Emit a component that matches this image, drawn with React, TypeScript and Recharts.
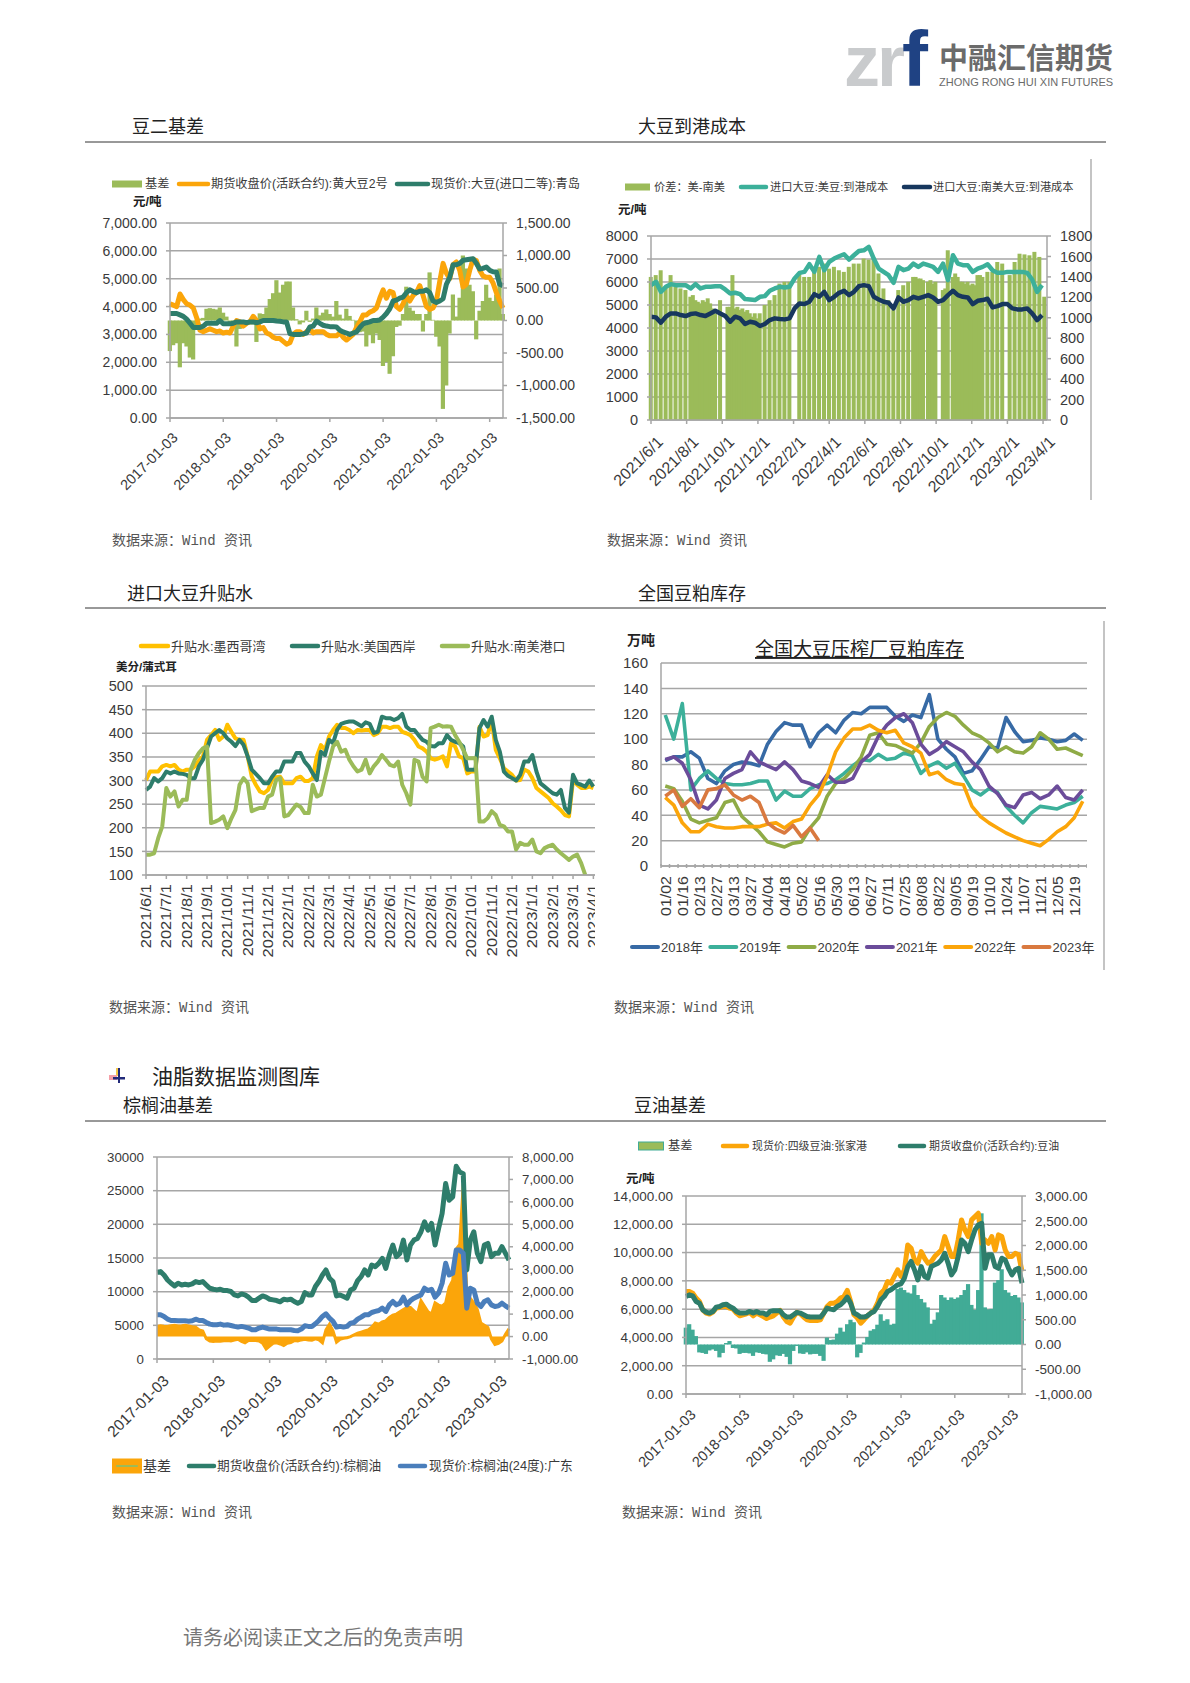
import { ComposedChart, Bar, Line, Area, XAxis, YAxis, CartesianGrid } from 'recharts';
import type { ReactNode } from 'react';

const SANS = '"Liberation Sans","Noto Sans CJK SC",sans-serif';
const SERIF = '"Liberation Serif","Noto Sans CJK SC",serif';
const MONO = '"Liberation Mono","Noto Sans CJK SC",monospace';
const GRID = '#a6a6a6';
const TICK_TEXT = '#3a3a3a';
const ORANGE = '#fba50a';
const DARK_TEAL = '#2e7d6b';
const OLIVE = '#9bbb59';

const YEAR_LABELS = ['2017-01-03', '2018-01-03', '2019-01-03', '2020-01-03', '2021-01-03', '2022-01-03', '2023-01-03'];
const YEAR_TICKS = [0, 16, 32, 48, 64, 80, 96];

// 豆二基差
const SOY2_LEFT = [0, 1000, 2000, 3000, 4000, 5000, 6000, 7000];
const SOY2_RIGHT = [-1500, -1000, -500, 0, 500, 1000, 1500];
const SOY2_BASIS = [-470, -380, -350, -720, -350, -400, -570, -600, -120, 30, 40, 180, 190, 180, 170, 200, 120, 60, -40, -50, -400, -130, -40, -30, -40, -60, -330, 110, 100, 200, 330, 420, 620, 430, 550, 600, 600, 200, 20, -60, -30, 150, -20, 30, 200, 80, 120, 170, 100, 60, 300, 90, 30, 180, 70, 10, -100, -180, -170, -400, -220, -350, -200, -300, -700, -640, -820, -550, -100, -80, 100, 520, 200, 150, 100, 100, -170, 100, 740, 10, -250, -400, -1360, -1000, -200, 400, 60, 350, 1000, 800, 550, 450, -290, 150, 300, 550, 350, 300, 400, 800, 100];
const SOY2_FUTURES = [4100, 4050, 4000, 4450, 4250, 4100, 4050, 3950, 3600, 3150, 3100, 3150, 3200, 3150, 3100, 3120, 3050, 3080, 3050, 3300, 3500, 3450, 3300, 3400, 3450, 3650, 3500, 3200, 3250, 3050, 3000, 2900, 2850, 2850, 2750, 2650, 2700, 3000, 3100, 3100, 3000, 3100, 3200, 3050, 3100, 3100, 3100, 3000, 2950, 2950, 2950, 3050, 2900, 2800, 2900, 3000, 3250, 3450, 3700, 3700, 3800, 3850, 3950, 4300, 4600, 4300, 4550, 4500, 4000, 3900, 4100, 4400, 4200, 4400, 4500, 4750, 4400, 4000, 3900, 3950, 4200, 4900, 5550, 5200, 5000, 5500, 5600, 5300, 4700, 4800, 5300, 5700, 5650, 5300, 5100, 5050, 5050, 4850, 4500, 4200, 3950];
const SOY2_SPOT = [3750, 3750, 3750, 3700, 3650, 3550, 3400, 3250, 3250, 3250, 3300, 3400, 3400, 3400, 3400, 3500, 3380, 3380, 3380, 3400, 3450, 3450, 3450, 3420, 3450, 3450, 3420, 3450, 3500, 3500, 3500, 3500, 3480, 3470, 3450, 3450, 3030, 3000, 3000, 3000, 3020, 3050, 3270, 3300, 3480, 3400, 3330, 3300, 3280, 3280, 3270, 3150, 3090, 3050, 3000, 3050, 3090, 3250, 3380, 3420, 3450, 3500, 3500, 3520, 3620, 3750, 3920, 4200, 4230, 4300, 4340, 4500, 4600, 4540, 4500, 4550, 4550, 4600, 4500, 4200, 4150, 4200, 4280, 4800, 5050, 5500, 5500, 5550, 5660, 5680, 5700, 5720, 5550, 5350, 5370, 5420, 5300, 5250, 5240, 4800, 4750];

// 大豆到港成本
const COST_LEFT = [0, 1000, 2000, 3000, 4000, 5000, 6000, 7000, 8000];
const COST_RIGHT = [0, 200, 400, 600, 800, 1000, 1200, 1400, 1600, 1800];
const COST_LABELS = ['2021/6/1', '2021/8/1', '2021/10/1', '2021/12/1', '2022/2/1', '2022/4/1', '2022/6/1', '2022/8/1', '2022/10/1', '2022/12/1', '2023/2/1', '2023/4/1'];
const COST_TICKS = [0, 14.4, 28.8, 43.2, 57.6, 72, 86.4, 100.8, 115.2, 129.6, 144, 158.4];
const COST_SPREAD = [6220, null, 6300, null, 6510, null, 5790, null, 6300, null, 5790, null, 5720, null, 5650, null, 5360, 5430, 5210, 5140, 5070, 5210, 5140, 5290, 5070, 4850, 4640, null, 5210, null, null, 4920, 4920, 6300, 4850, 4920, 4780, 4850, 4710, 4780, 4640, 4490, 4640, 4420, 4640, null, 5000, null, 5210, null, 5430, null, 5930, null, 6010, null, 6010, null, null, null, 6370, null, 6220, null, 6220, null, 6510, null, 6660, null, 6800, null, 6580, null, 6660, null, 6510, null, 6440, null, 6660, null, 6800, null, 6800, null, 7020, null, 6970, null, 7020, null, 6370, null, 5720, null, 5210, null, 4780, null, 5650, null, 5860, null, 6010, null, 6220, 6220, 6150, 6150, 6080, null, 6010, 6080, 5930, 6010, null, null, 5650, 5720, 7380, null, 6220, 6370, 6220, 6010, 6010, 5930, 6010, 5860, 5930, 5860, 6300, 6300, 6220, null, 6440, null, 6440, null, 6870, null, 6800, null, null, 6300, null, 6870, null, 7230, null, 7200, null, 7160, null, 7310, null, 7090, null, 5360, null];
const COST_US = [5863, 6007, 5574, 5790, 5906, 5863, 5863, 5863, 5718, 5906, 5718, 5790, 5790, 5819, 5819, 5675, 5502, 5531, 5473, 5256, 5242, 5213, 5357, 5386, 5617, 5718, 5790, 5762, 5790, 6151, 6397, 6440, 6772, 6440, 7090, 6512, 6873, 7018, 7119, 7206, 6975, 7162, 7350, 7379, 7523, 7018, 6585, 6440, 6296, 5964, 6657, 6512, 6585, 6801, 6657, 6801, 6729, 6657, 6440, 6801, 6079, 7162, 6801, 6729, 6729, 6440, 6585, 6657, 6772, 6512, 6397, 6397, 6440, 6440, 6440, 6440, 6397, 6108, 5574, 5863];
const COST_SOUTH = [4491, 4462, 4231, 4491, 4635, 4635, 4563, 4520, 4606, 4635, 4563, 4520, 4635, 4751, 4635, 4520, 4274, 4491, 4419, 4173, 4274, 4231, 4087, 4173, 4346, 4419, 4390, 4375, 4419, 4852, 5068, 5040, 5141, 5473, 5357, 5574, 5213, 5357, 5531, 5617, 5430, 5574, 5819, 5863, 5819, 5357, 5242, 5141, 5097, 4852, 5328, 5141, 5213, 5357, 5285, 5357, 5430, 5328, 5141, 5213, 5430, 5617, 5430, 5357, 5328, 5040, 5184, 5213, 5271, 4895, 4953, 5040, 5040, 4852, 4809, 4809, 4852, 4635, 4346, 4563];

// 进口大豆升贴水
const PREMIUM_LEFT = [100, 150, 200, 250, 300, 350, 400, 450, 500];
const PREMIUM_LABELS = ['2021/6/1', '2021/7/1', '2021/8/1', '2021/9/1', '2021/10/1', '2021/11/1', '2021/12/1', '2022/1/1', '2022/2/1', '2022/3/1', '2022/4/1', '2022/5/1', '2022/6/1', '2022/7/1', '2022/8/1', '2022/9/1', '2022/10/1', '2022/11/1', '2022/12/1', '2023/1/1', '2023/2/1', '2023/3/1', '2023/4/1'];
const PREMIUM_TICKS = [0, 5, 10, 15, 20, 25, 30, 35, 40, 45, 50, 55, 60, 65, 70, 75, 80, 85, 90, 95, 100, 105, 110];
const PREMIUM_GULF = [301, 319, 319, 319, 330, 333, 330, 333, 323, 319, 323, 323, 330, 342, 351, 386, 396, 407, 386, 393, 418, 403, 389, 386, 386, 351, 308, 291, 277, 273, 280, 301, 307, 308, 294, 294, 294, 305, 308, 299, 299, 305, 351, 375, 365, 393, 407, 418, 411, 411, 407, 400, 407, 406, 407, 407, 396, 400, 414, 414, 411, 414, 414, 403, 400, 396, 386, 372, 368, 361, 347, 344, 347, 351, 330, 379, 372, 351, 347, 315, 319, 319, 414, 393, 396, 428, 365, 347, 326, 319, 312, 300, 301, 323, 319, 305, 284, 277, 270, 263, 252, 245, 237, 227, 224, 301, 291, 284, 284, 287, 284];
const PREMIUM_WEST = [280, 287, 305, 298, 305, 319, 315, 319, 315, 314, 312, 305, 305, 330, 344, 368, 393, 400, 407, 400, 389, 382, 373, 386, 375, 351, 323, 314, 305, 294, 294, 308, 319, 319, 340, 340, 340, 358, 358, 340, 330, 315, 301, 361, 354, 386, 379, 407, 420, 423, 425, 425, 420, 415, 423, 420, 401, 403, 435, 432, 432, 428, 432, 441, 414, 407, 407, 396, 386, 382, 373, 372, 379, 379, 396, 386, 382, 379, 372, 323, 323, 323, 411, 428, 414, 435, 386, 361, 319, 310, 305, 300, 312, 340, 340, 354, 319, 294, 287, 280, 273, 270, 280, 242, 232, 312, 294, 291, 287, 300, 287];
const PREMIUM_SOUTH = [143, 143, 146, 178, 203, 284, 266, 277, 245, 259, 259, 323, 344, 358, 368, 372, 210, 213, 217, 224, 199, 220, 238, 291, 305, 294, 235, 239, 242, 242, 266, 270, 301, 305, 224, 227, 238, 249, 244, 231, 231, 291, 266, 270, 305, 340, 372, 382, 361, 365, 344, 330, 319, 323, 344, 315, 330, 340, 354, 344, 333, 330, 340, 291, 273, 249, 344, 340, 308, 298, 411, 414, 418, 414, 415, 414, 396, 382, 365, 347, 347, 347, 213, 213, 220, 235, 227, 206, 203, 192, 192, 154, 168, 164, 164, 175, 150, 146, 157, 161, 164, 154, 146, 139, 132, 139, 143, 125, 100];

// 全国豆粕库存
const WEEKS = ['01/02', '01/09', '01/16', '01/23', '02/13', '02/20', '02/27', '03/06', '03/13', '03/20', '03/27', '03/30', '04/04', '04/11', '04/18', '04/25', '05/02', '05/09', '05/16', '05/23', '05/30', '06/06', '06/13', '06/20', '06/27', '07/04', '07/11', '07/18', '07/25', '08/01', '08/08', '08/15', '08/22', '08/29', '09/05', '09/12', '09/19', '09/26', '10/10', '10/17', '10/24', '10/31', '11/07', '11/14', '11/21', '11/28', '12/05', '12/12', '12/19', '12/26'];
const STOCK_LEFT = [0, 20, 40, 60, 80, 100, 120, 140, 160];
const STOCK_2018 = [83, 86, 86, 90, 85, 69, 65, 75, 80, 82, 81, 79, 96, 106, 113, 111, 111, 94, 105, 111, 105, 115, 121, 120, 125, 125, 125, 118, 114, 119, 117, 135, 100, 92, 86, 73, 75, 84, 94, 93, 117, 106, 98, 99, 101, 100, 98, 99, 104, 99];
const STOCK_2019 = [119, 100, 128, 60, 69, 75, 69, 65, 64, 64, 65, 67, 67, 52, 59, 55, 55, 61, 64, 65, 68, 73, 79, 84, 83, 88, 84, 85, 89, 87, 73, 79, 82, 77, 81, 71, 60, 56, 61, 58, 47, 40, 34, 42, 47, 46, 45, 48, 50, 55];
const STOCK_2020 = [63, 61, 51, 37, 34, 36, 38, 50, 52, 39, 33, 27, 19, 17, 15, 18, 19, 30, 38, 55, 65, 69, 76, 86, 103, 105, 96, 95, 92, 89, 97, 110, 117, 121, 118, 111, 105, 102, 97, 90, 94, 90, 89, 94, 105, 100, 92, 93, 90, 87];
const STOCK_2021 = [84, 86, 81, 68, 48, 45, 52, 69, 73, 76, 90, 82, 79, 76, 82, 76, 67, 65, 62, 72, 66, 66, 69, 82, 88, 102, 111, 117, 120, 113, 96, 88, 92, 98, 94, 90, 82, 76, 63, 57, 48, 46, 56, 58, 53, 56, 63, 54, 52, 60];
const STOCK_2022 = [54, 48, 34, 27, 27, 33, 31, 30, 30, 31, 31, 31, 33, 34, 30, 35, 37, 48, 56, 71, 90, 101, 108, 108, 111, 107, 105, 107, 97, 94, 89, 72, 74, 68, 65, 64, 47, 39, 34, 30, 26, 23, 20, 18, 16, 21, 27, 31, 38, 51];
const STOCK_2023 = [55, 60, 47, 53, 46, 60, 61, 64, 56, 52, 55, 50, 34, 29, 26, 32, 23, 30, 20];
const STOCK_YEARS = [
  { key: 'y2018', name: '2018年', color: '#376aa5', values: STOCK_2018 },
  { key: 'y2019', name: '2019年', color: '#3cb09a', values: STOCK_2019 },
  { key: 'y2020', name: '2020年', color: '#8fab46', values: STOCK_2020 },
  { key: 'y2021', name: '2021年', color: '#6b4c9a', values: STOCK_2021 },
  { key: 'y2022', name: '2022年', color: ORANGE, values: STOCK_2022 },
  { key: 'y2023', name: '2023年', color: '#d9793f', values: STOCK_2023 },
];

// 棕榈油基差
const PALM_LEFT = [0, 5000, 10000, 15000, 20000, 25000, 30000];
const PALM_RIGHT = [-1000, 0, 1000, 2000, 3000, 4000, 5000, 6000, 7000, 8000];
const PALM_BASIS = [450, 480, 460, 450, 480, 500, 470, 480, 500, 470, 440, 420, 300, 250, -100, -200, -220, -200, -210, -190, -180, -200, -160, -120, -220, -280, -180, -160, -180, -200, -300, -550, -420, -300, -280, -330, -400, -300, -270, -180, -200, -150, -120, -150, -160, -100, -150, -280, 300, 550, 250, -250, -120, -80, -50, 0, 80, 150, 200, 250, 300, 420, 600, 550, 650, 700, 850, 950, 1000, 1100, 1200, 1300, 1300, 1150, 1000, 1600, 1350, 1100, 1000, 1500, 1400, 1350, 1500, 2200, 2500, 3900, 4100, 6800, 1800, 1700, 1500, 1200, 600, 500, 400, -100, -350, -300, -200, 100, 350];
const PALM_FUTURES = [12880, 12980, 12480, 11740, 11250, 10860, 11250, 11000, 11100, 11000, 11150, 11500, 11350, 11500, 11000, 10510, 10360, 10260, 10360, 10160, 10160, 10020, 9520, 9370, 9670, 9520, 9180, 8680, 8680, 9030, 9370, 9180, 8880, 8780, 8680, 8490, 8880, 8780, 8880, 8540, 8290, 8540, 9870, 9520, 9520, 10760, 11500, 12480, 13220, 11990, 11500, 9370, 9520, 9280, 9030, 10260, 10510, 11640, 12240, 13220, 12480, 13960, 13720, 14210, 14950, 13470, 15440, 16920, 15200, 15690, 17660, 14700, 16920, 17660, 17910, 18900, 20380, 19140, 20130, 16920, 19390, 21610, 26050, 23580, 24080, 28620, 27780, 27530, 13220, 17660, 18900, 15690, 14460, 16920, 17170, 15200, 15690, 15690, 16680, 15690, 14700];
const PALM_SPOT = [6560, 6560, 6320, 5920, 5720, 5720, 5670, 5670, 5670, 5620, 5670, 5920, 5720, 5720, 5430, 5180, 5080, 5080, 5180, 5030, 5080, 4980, 4840, 4740, 4840, 4740, 4590, 4340, 4340, 4590, 4740, 4590, 4440, 4440, 4440, 4340, 4340, 4340, 4340, 4240, 4190, 4440, 4930, 4840, 4840, 5230, 5720, 6320, 6710, 6070, 5580, 4740, 4840, 4740, 4840, 5330, 5430, 5920, 6220, 6560, 6560, 6910, 7060, 7200, 7550, 7060, 8040, 8540, 8040, 8290, 9180, 8040, 8680, 9030, 9280, 9520, 10510, 10160, 10360, 9180, 9770, 11250, 14210, 12480, 12730, 16180, 16180, 15690, 7550, 10510, 10260, 8290, 7800, 8540, 8780, 8040, 7800, 7890, 8290, 7890, 7550];

// 豆油基差
const SOYOIL_LEFT = [0, 2000, 4000, 6000, 8000, 10000, 12000, 14000];
const SOYOIL_RIGHT = [-1000, -500, 0, 500, 1000, 1500, 2000, 2500, 3000];
const SOYOIL_BASIS = [340, 410, 300, 170, -160, -170, -190, -120, -100, -130, -260, -170, 30, 70, -70, -80, -190, -170, -170, -180, -230, -160, -170, -190, -200, -350, -300, -220, -230, -190, -250, -400, -130, -30, -180, -190, -160, -200, -190, -190, -230, -330, 140, 90, 100, 220, 340, 260, 410, 500, 450, -260, -170, 40, 150, 280, 310, 400, 610, 480, 510, 400, 420, 1120, 1150, 1100, 1050, 1030, 1200, 1000, 920, 850, 750, 420, 500, 650, 1000, 950, 900, 950, 920, 950, 1000, 1100, 1220, 800, 700, 1100, 2650, 750, 710, 720, 1250, 1300, 1520, 1100, 1050, 980, 1000, 950, 850];
const SOYOIL_SPOT = [7250, 7250, 7130, 6780, 6540, 5950, 5720, 5650, 5790, 6070, 6120, 6190, 6190, 6070, 6000, 5720, 5530, 5600, 5670, 5770, 5530, 5720, 5600, 5480, 5340, 5440, 5530, 5720, 5910, 5440, 5130, 5010, 5440, 5770, 5670, 5440, 5250, 5200, 5200, 5200, 5250, 5720, 6190, 6420, 6420, 6540, 6780, 6890, 7320, 6540, 5600, 5370, 5010, 5250, 5530, 5720, 5950, 6420, 7130, 7370, 7950, 7840, 8310, 8780, 8310, 8780, 10540, 10310, 9480, 9250, 10070, 9600, 9250, 9370, 9720, 9950, 10190, 11130, 10420, 9720, 9720, 10890, 12310, 11600, 11130, 12310, 12540, 12780, 10660, 10890, 10660, 11130, 10190, 11250, 11130, 10190, 9720, 9720, 9950, 9840, 8660];
const SOYOIL_FUTURES = [6890, 7010, 6940, 6540, 6420, 5950, 5790, 5720, 5840, 6140, 6190, 6310, 6350, 6190, 6070, 5840, 5720, 5720, 5740, 5840, 5720, 5840, 5720, 5720, 5600, 5840, 5880, 5880, 5880, 5600, 5440, 5440, 5600, 5770, 5720, 5600, 5480, 5440, 5440, 5440, 5440, 5720, 6070, 6000, 5950, 6190, 6310, 6540, 6850, 6420, 5720, 5600, 5440, 5440, 5530, 5720, 5840, 6190, 6660, 6890, 7250, 7370, 7550, 7720, 7790, 8190, 9010, 9370, 8780, 8070, 9010, 8310, 8190, 9010, 9130, 9250, 9480, 9950, 9250, 8420, 8780, 9720, 10890, 10660, 10070, 10890, 11600, 11950, 12070, 8890, 9840, 9840, 9010, 8890, 9600, 9480, 8890, 8420, 8780, 8890, 7840];

const money = (v: number) => v.toLocaleString('en-US', { minimumFractionDigits: 2, maximumFractionDigits: 2 });
const plain = (v: number) => String(v);

function toRows(count: number, cols: Record<string, (number | null)[]>, step: Record<string, number> = {}) {
  return Array.from({ length: count }, (_, t) => {
    const row: Record<string, number | null | undefined> = { t };
    for (const k of Object.keys(cols)) {
      const s = step[k] ?? 1;
      row[k] = t % s === 0 ? cols[k][t / s] : null;
    }
    return row;
  });
}

const DiagTick = ({ x, y, index, labels, size, shift }: any) => (
  <g transform={`translate(${x + 5 + shift},${y + 11 + shift / 2}) rotate(-45)`}>
    <text textAnchor="end" dy="0.35em" fontSize={size} fontFamily={SANS} fill={TICK_TEXT}>{labels[index]}</text>
  </g>
);

// the source stretches its upright labels along their length
const UpTick = ({ x, y, index, labels, size }: any) => (
  <g transform={`translate(${x},${y + 3}) rotate(-90) scale(1.18,1)`}>
    <text textAnchor="end" dy="0.35em" fontSize={size} fontFamily={SANS} fill={TICK_TEXT}>{labels[index]}</text>
  </g>
);

// daily columns sit edge to edge in the source, so draw them a little wider than the scale slot
const WideBar = ({ x, y, width, height, fill, wide }: any) => {
  if (!height) return null;
  return (
    <rect
      x={x + width / 2 - wide / 2}
      y={Math.min(y, y + height)}
      width={wide}
      height={Math.abs(height)}
      fill={fill}
    />
  );
};

type PanelProps = {
  plot: { left: number; right: number; top: number; bottom: number };
  rows: any[];
  xMax: number;
  xTicks: number[];
  xLabels: string[];
  upright?: boolean;
  xSize?: number;
  xShift?: number;
  ySize?: number;
  leftTicks: number[];
  leftFmt?: (v: number) => string;
  rightTicks?: number[];
  rightFmt?: (v: number) => string;
  children: ReactNode;
};

function Panel({ plot, rows, xMax, xTicks, xLabels, upright, xSize = 14.5, xShift = 0, ySize = 14, leftTicks, leftFmt, rightTicks, rightFmt, children }: PanelProps) {
  const leftW = 84;
  const rightW = rightTicks ? 90 : 0;
  const topPad = 10;
  const xH = 90;
  const axisStyle = { stroke: GRID, strokeWidth: 1.5 };
  const tickStyle = { fontSize: ySize, fontFamily: SANS, fill: TICK_TEXT };
  return (
    <div style={{ position: 'absolute', left: plot.left - leftW, top: plot.top - topPad, overflow: 'hidden' }}>
      <ComposedChart
        width={plot.right - plot.left + leftW + rightW}
        height={plot.bottom - plot.top + topPad + xH}
        data={rows}
        margin={{ top: topPad, right: 0, bottom: 0, left: 0 }}
      >
        <CartesianGrid yAxisId="left" vertical={false} stroke={GRID} strokeWidth={1.5} />
        <XAxis
          dataKey="t"
          type="number"
          domain={[0, xMax]}
          ticks={xTicks}
          interval={0}
          height={xH}
          axisLine={axisStyle}
          tickLine={axisStyle}
          tickSize={4}
          tick={upright ? <UpTick labels={xLabels} size={xSize} /> : <DiagTick labels={xLabels} size={xSize} shift={xShift} />}
        />
        <YAxis
          yAxisId="left"
          width={leftW}
          domain={[leftTicks[0], leftTicks[leftTicks.length - 1]]}
          ticks={leftTicks}
          interval={0}
          allowDataOverflow
          tickFormatter={leftFmt}
          axisLine={axisStyle}
          tickLine={axisStyle}
          tickSize={4}
          tickMargin={9}
          tick={tickStyle}
        />
        {rightTicks && (
          <YAxis
            yAxisId="right"
            orientation="right"
            width={rightW}
            domain={[rightTicks[0], rightTicks[rightTicks.length - 1]]}
            ticks={rightTicks}
            interval={0}
            allowDataOverflow
            tickFormatter={rightFmt}
            axisLine={axisStyle}
            tickLine={axisStyle}
            tickSize={4}
            tickMargin={9}
            tick={tickStyle}
          />
        )}
        {children}
      </ComposedChart>
    </div>
  );
}

const seriesLine = (key: string, color: string, width: number, axis = 'left') => (
  <Line
    key={key}
    yAxisId={axis}
    dataKey={key}
    type="linear"
    stroke={color}
    strokeWidth={width}
    dot={false}
    activeDot={false}
    connectNulls
    strokeLinejoin="round"
    isAnimationActive={false}
  />
);

const WeekTick = ({ x, y, index, payload }: any) => (
  <g>
    <line x1={x - 4.26} x2={x - 4.26} y1={y - 8} y2={y - 4} stroke={GRID} strokeWidth={1.5} />
    {index === WEEKS.length - 1 && <line x1={x + 4.26} x2={x + 4.26} y1={y - 8} y2={y - 4} stroke={GRID} strokeWidth={1.5} />}
    {index % 2 === 0 && (
      <g transform={`translate(${x + 1},${y + 4}) rotate(-90) scale(1.14,1)`}>
        <text textAnchor="end" dy="0.35em" fontSize={14} fontFamily={SANS} fill={TICK_TEXT}>{payload.value}</text>
      </g>
    )}
  </g>
);

function StockPanel() {
  const rows = WEEKS.map((week, i) => {
    const row: Record<string, string | number> = { week };
    STOCK_YEARS.forEach(s => { if (s.values[i] !== undefined) row[s.key] = s.values[i]; });
    return row;
  });
  const axisStyle = { stroke: GRID, strokeWidth: 1.5 };
  return (
    <div style={{ position: 'absolute', left: 661 - 60, top: 663 - 10 }}>
      <ComposedChart width={426 + 60} height={203 + 10 + 60} data={rows} margin={{ top: 10, right: 0, bottom: 0, left: 0 }}>
        <CartesianGrid yAxisId="left" vertical={false} stroke={GRID} strokeWidth={1.5} />
        <XAxis
          dataKey="week"
          type="category"
          scale="band"
          interval={0}
          height={60}
          axisLine={axisStyle}
          tickLine={false}
          tickSize={4}
          tick={<WeekTick />}
        />
        <YAxis
          yAxisId="left"
          width={60}
          domain={[0, 160]}
          ticks={STOCK_LEFT}
          interval={0}
          axisLine={axisStyle}
          tickLine={false}
          tickMargin={7}
          tick={{ fontSize: 15, fontFamily: SANS, fill: TICK_TEXT }}
        />
        {STOCK_YEARS.map(s => seriesLine(s.key, s.color, 3.6))}
      </ComposedChart>
    </div>
  );
}

const Caption = ({ x, y, size = 18, children, family = SERIF, color = '#222', weight = 400 }: any) => (
  <text x={x} y={y} fontSize={size} fontFamily={family} fill={color} fontWeight={weight}>{children}</text>
);

const Rule = ({ y }: { y: number }) => <line x1={85} x2={1106} y1={y} y2={y} stroke="#333" strokeWidth={1} />;
const Source = ({ x, y }: { x: number; y: number }) => (
  <text x={x} y={y} fontSize={14} fontFamily={MONO} fill="#555">数据来源：Wind 资讯</text>
);
const KeyLine = ({ x1, x2, y, color, width = 4.5 }: any) => (
  <line x1={x1} x2={x2} y1={y} y2={y} stroke={color} strokeWidth={width} strokeLinecap="round" />
);
const KeyBox = ({ x, y, w, h, color }: any) => <rect x={x} y={y - h / 2} width={w} height={h} fill={color} />;
const KeyText = ({ x, y, size = 12.2, children }: any) => (
  <text x={x} y={y} dy="0.35em" fontSize={size} fontFamily={SANS} fill="#3a3a3a">{children}</text>
);
const Unit = ({ x, y, size = 12.5, children }: any) => (
  <text x={x} y={y} dy="0.35em" fontSize={size} fontFamily={SANS} fontWeight={700} fill="#222">{children}</text>
);

function Overlay() {
  return (
    <svg width={1190} height={1683} style={{ position: 'absolute', left: 0, top: 0 }}>
      {/* logo */}
      <text x={844} y={86} fontSize={72} fontFamily={SANS} fontWeight={700} fill="#c9cbcd" letterSpacing={-3}>zr</text>
      <text x={902} y={86} fontSize={78} fontFamily={SANS} fontWeight={700} fill="#1f4283">f</text>
      <text x={939} y={69} fontSize={29} fontFamily={SANS} fontWeight={700} fill="#6b6b6b">中融汇信期货</text>
      <text x={939} y={86} fontSize={11} fontFamily={SANS} fill="#6b6b6b">ZHONG RONG HUI XIN FUTURES</text>

      <Caption x={132} y={133}>豆二基差</Caption>
      <Caption x={638} y={133}>大豆到港成本</Caption>
      <Rule y={142} />
      <Caption x={127} y={600}>进口大豆升贴水</Caption>
      <Caption x={638} y={600}>全国豆粕库存</Caption>
      <Rule y={608} />
      <Caption x={152} y={1084} size={21}>油脂数据监测图库</Caption>
      <Caption x={123} y={1112}>棕榈油基差</Caption>
      <Caption x={634} y={1112}>豆油基差</Caption>
      <Rule y={1121} />

      {/* section bullet */}
      <rect x={116} y={1068} width={3} height={8} fill="#f7c948" />
      <rect x={109} y={1075} width={8} height={5} fill="#f5a0a8" />
      <rect x={118} y={1068} width={2} height={15} fill="#222a7a" />
      <rect x={113} y={1077} width={12} height={2.5} fill="#222a7a" />

      {/* 豆二基差 legend */}
      <KeyBox x={112} y={184} w={30} h={7} color={OLIVE} />
      <KeyText x={145} y={184}>基差</KeyText>
      <KeyLine x1={179} x2={208} y={184} color={ORANGE} />
      <KeyText x={211} y={184}>期货收盘价(活跃合约):黄大豆2号</KeyText>
      <KeyLine x1={397} x2={428} y={184} color={DARK_TEAL} />
      <KeyText x={431} y={184}>现货价:大豆(进口二等):青岛</KeyText>
      <Unit x={133} y={202}>元/吨</Unit>

      {/* 到港成本 legend */}
      <KeyBox x={625} y={187} w={25} h={7} color={OLIVE} />
      <KeyText x={654} y={187} size={11.2}>价差：美-南美</KeyText>
      <KeyLine x1={741} x2={766} y={187} color="#3cb09a" />
      <KeyText x={770} y={187} size={11.2}>进口大豆:美豆:到港成本</KeyText>
      <KeyLine x1={904} x2={930} y={187} color="#17375e" />
      <KeyText x={933} y={187} size={11.2}>进口大豆:南美大豆:到港成本</KeyText>
      <Unit x={618} y={210}>元/吨</Unit>
      <line x1={1091} x2={1091} y1={159} y2={500} stroke="#b0b0b0" strokeWidth={1.5} />

      {/* 升贴水 legend */}
      <KeyLine x1={141} x2={168} y={646} color="#ffc000" />
      <KeyText x={171} y={646} size={13}>升贴水:墨西哥湾</KeyText>
      <KeyLine x1={292} x2={318} y={646} color={DARK_TEAL} />
      <KeyText x={321} y={646} size={13}>升贴水:美国西岸</KeyText>
      <KeyLine x1={442} x2={468} y={646} color={OLIVE} />
      <KeyText x={471} y={646} size={13}>升贴水:南美港口</KeyText>
      <Unit x={116} y={667} size={11.5}>美分/蒲式耳</Unit>

      {/* 库存 title and legend */}
      <Unit x={627} y={640} size={14}>万吨</Unit>
      <text x={755} y={656} fontSize={19} fontFamily={SERIF} fill="#222" textDecoration="underline">全国大豆压榨厂豆粕库存</text>
      {STOCK_YEARS.map((s, i) => (
        <g key={s.key}>
          <KeyLine x1={632 + i * 78.3} x2={658 + i * 78.3} y={947} color={s.color} width={4} />
          <KeyText x={661 + i * 78.3} y={947} size={13}>{s.name}</KeyText>
        </g>
      ))}
      <line x1={1104} x2={1104} y1={621} y2={970} stroke="#b0b0b0" strokeWidth={1.5} />

      {/* 棕榈油 legend */}
      <KeyBox x={112} y={1466} w={30} h={15} color={ORANGE} />
      <KeyLine x1={117} x2={137} y={1466} color="#9bbb59" width={2} />
      <KeyText x={143} y={1466} size={14}>基差</KeyText>
      <KeyLine x1={189} x2={214} y={1466} color={DARK_TEAL} />
      <KeyText x={217} y={1466} size={12.7}>期货收盘价(活跃合约):棕榈油</KeyText>
      <KeyLine x1={400} x2={425} y={1466} color="#4a7ebb" />
      <KeyText x={429} y={1466} size={12.7}>现货价:棕榈油(24度):广东</KeyText>

      {/* 豆油 legend */}
      <rect x={638.5} y={1142} width={25} height={8} fill="#9bbb59" stroke="#41ab96" />
      <KeyText x={668} y={1146}>基差</KeyText>
      <KeyLine x1={723} x2={747} y={1146} color={ORANGE} />
      <KeyText x={752} y={1146} size={10.9}>现货价:四级豆油:张家港</KeyText>
      <KeyLine x1={900} x2={924} y={1146} color={DARK_TEAL} />
      <KeyText x={929} y={1146} size={10.9}>期货收盘价(活跃合约):豆油</KeyText>
      <Unit x={626} y={1179}>元/吨</Unit>

      <Source x={112} y={545} />
      <Source x={607} y={545} />
      <Source x={109} y={1012} />
      <Source x={614} y={1012} />
      <Source x={112} y={1517} />
      <Source x={622} y={1517} />

      <text x={183} y={1645} fontSize={20} fontFamily={SERIF} fill="#777">请务必阅读正文之后的免责声明</text>
    </svg>
  );
}

export default function App() {
  const soyRows = toRows(101, { basis: SOY2_BASIS, fut: SOY2_FUTURES, spot: SOY2_SPOT });
  const costRows = toRows(161, { spread: COST_SPREAD, us: COST_US, south: COST_SOUTH }, { us: 2, south: 2 });
  const premRows = toRows(111, { gulf: PREMIUM_GULF, west: PREMIUM_WEST, south: PREMIUM_SOUTH });
  const palmRows = toRows(101, { basis: PALM_BASIS, fut: PALM_FUTURES, spot: PALM_SPOT });
  const oilRows = toRows(101, { basis: SOYOIL_BASIS, spot: SOYOIL_SPOT, fut: SOYOIL_FUTURES });
  return (
    <div style={{ position: 'absolute', left: 0, top: 0, width: 1190, height: 1683, background: '#fff', overflow: 'hidden' }}>
      <Overlay />
      <Panel plot={{ left: 170, right: 503, top: 223, bottom: 418 }} rows={soyRows} xMax={100} xTicks={YEAR_TICKS} xLabels={YEAR_LABELS}
        leftTicks={SOY2_LEFT} leftFmt={money} rightTicks={SOY2_RIGHT} rightFmt={money}>
        <Bar yAxisId="right" dataKey="basis" fill={OLIVE} barSize={3} shape={<WideBar wide={4.2} />} isAnimationActive={false} />
        {seriesLine('fut', ORANGE, 5)}
        {seriesLine('spot', DARK_TEAL, 5)}
      </Panel>
      <Panel plot={{ left: 651, right: 1047, top: 236, bottom: 420 }} rows={costRows} xMax={160} xTicks={COST_TICKS} xLabels={COST_LABELS} xSize={16} xShift={4} ySize={14.5}
        leftTicks={COST_LEFT} leftFmt={plain} rightTicks={COST_RIGHT} rightFmt={plain}>
        <Bar yAxisId="left" dataKey="spread" fill={OLIVE} barSize={2} shape={<WideBar wide={4} />} isAnimationActive={false} />
        {seriesLine('us', '#3cb09a', 4.5)}
        {seriesLine('south', '#17375e', 4.5)}
      </Panel>
      <Panel plot={{ left: 146, right: 595, top: 686, bottom: 875 }} rows={premRows} xMax={110.4} xTicks={PREMIUM_TICKS} xLabels={PREMIUM_LABELS} upright xSize={14} ySize={14.5}
        leftTicks={PREMIUM_LEFT} leftFmt={plain}>
        {seriesLine('gulf', '#ffc000', 4)}
        {seriesLine('west', DARK_TEAL, 4)}
        {seriesLine('south', OLIVE, 4)}
      </Panel>
      <StockPanel />
      <Panel plot={{ left: 157, right: 509, top: 1157, bottom: 1359 }} rows={palmRows} xMax={100} xTicks={YEAR_TICKS} xLabels={YEAR_LABELS} xSize={15.5} xShift={4} ySize={13.3}
        leftTicks={PALM_LEFT} leftFmt={plain} rightTicks={PALM_RIGHT} rightFmt={money}>
        <Area yAxisId="right" dataKey="basis" type="linear" fill={ORANGE} fillOpacity={1} stroke={ORANGE} strokeWidth={3} dot={false} activeDot={false} isAnimationActive={false} />
        {seriesLine('fut', DARK_TEAL, 5)}
        {seriesLine('spot', '#4a7ebb', 5)}
      </Panel>
      <Panel plot={{ left: 686, right: 1022, top: 1196, bottom: 1394 }} rows={oilRows} xMax={100} xTicks={YEAR_TICKS} xLabels={YEAR_LABELS} xShift={2} ySize={13.5}
        leftTicks={SOYOIL_LEFT} leftFmt={money} rightTicks={SOYOIL_RIGHT} rightFmt={money}>
        <Bar yAxisId="right" dataKey="basis" fill="#41ab96" barSize={3} shape={<WideBar wide={4.2} />} isAnimationActive={false} />
        {seriesLine('spot', ORANGE, 5)}
        {seriesLine('fut', DARK_TEAL, 5)}
      </Panel>
    </div>
  );
}
